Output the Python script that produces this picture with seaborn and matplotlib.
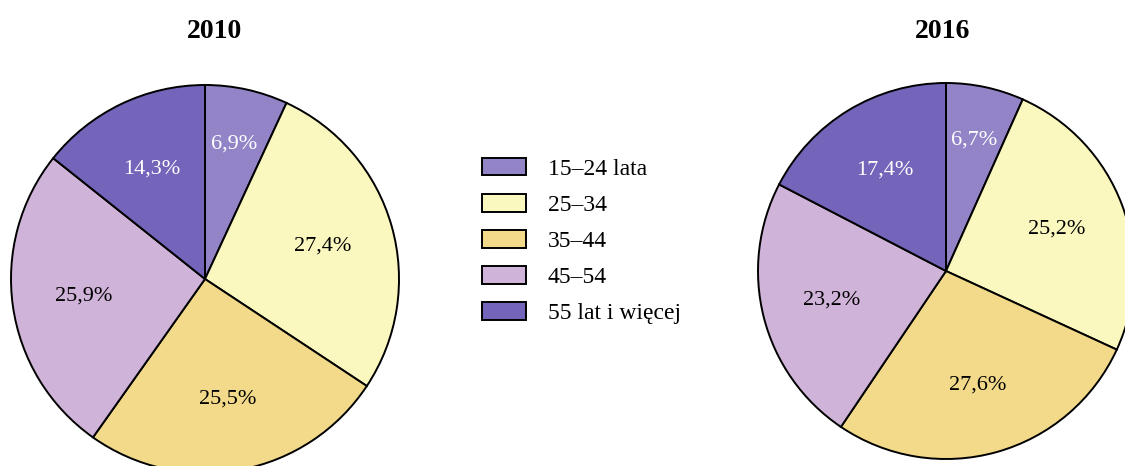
import matplotlib
matplotlib.use("Agg")
import matplotlib.pyplot as plt
import seaborn as sns

categories = ["15–24 lata", "25–34", "35–44", "45–54", "55 lat i więcej"]
values_2010 = [6.9, 27.4, 25.5, 25.9, 14.3]
values_2016 = [6.7, 25.2, 27.6, 23.2, 17.4]
years = ["2010", "2016"]
colors = ["#9384C8", "#FAF8BE", "#F2DA8A", "#D0B3D8", "#7464BA"]
label_colors = ["white", "black", "black", "black", "white"]

sns.set_theme(style="white")
plt.rcParams["font.family"] = ["Liberation Serif", "DejaVu Serif"]
plt.rcParams["text.color"] = "black"

W, H = 1125, 466
fig = plt.figure(figsize=(W / 100, H / 100), dpi=100)


def add_pie(cx, cy, r, vals, title, tx):
    ax = fig.add_axes([(cx - r) / W, (H - cy - r) / H, 2 * r / W, 2 * r / H])
    wedges, texts, autotexts = ax.pie(
        vals, colors=colors, startangle=90, counterclock=False,
        autopct=lambda p: f"{p:.1f}%".replace(".", ","),
        pctdistance=0.63,
        wedgeprops=dict(edgecolor="black", linewidth=1.4),
        textprops=dict(fontsize=16),
    )
    total = sum(vals)
    for v, t, c in zip(vals, autotexts, label_colors):
        t.set_color(c)
        if v / total < 0.1:
            x, y = t.get_position()
            t.set_position((x * 0.71 / 0.63, y * 0.71 / 0.63))
    ax.set_xlim(-1, 1)
    ax.set_ylim(-1, 1)
    ax.set_aspect("equal")
    ax.axis("off")
    fig.text(tx / W, 1 - 32 / H, title, ha="center", va="center",
             fontsize=20, fontweight="bold", color="black")
    return wedges


w = add_pie(205, 279, 194, values_2010, years[0], 215)
add_pie(946, 271, 188, values_2016, years[1], 943)

leg = fig.legend(
    w, categories, loc="upper left",
    bbox_to_anchor=(482 / W, 1 - 158 / H),
    frameon=False, fontsize=17, borderaxespad=0, borderpad=0,
    handlelength=1.86, handleheight=0.76, labelspacing=0.6,
    handletextpad=0.93, labelcolor="black",
)

fig.savefig("out.png", dpi=100)
